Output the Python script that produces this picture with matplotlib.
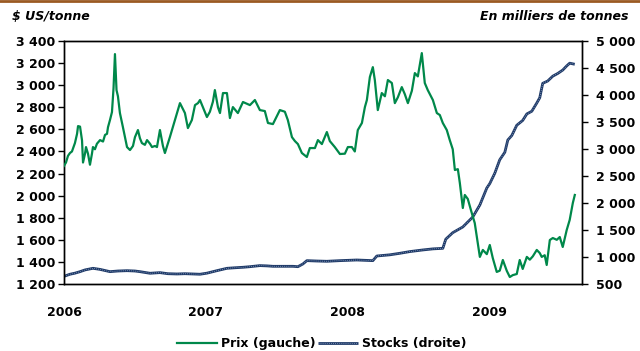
import matplotlib
matplotlib.use("Agg")
from matplotlib import pyplot as plt
from matplotlib.lines import Line2D
from matplotlib.ticker import FuncFormatter

# Aluminium price ($/t, left axis) and stocks (kt, right axis)
t0 = 2006
price_t = [0.000, 0.014, 0.028, 0.042, 0.056, 0.077, 0.092, 0.099, 0.113, 0.127,
           0.134, 0.148, 0.155, 0.169, 0.183, 0.197, 0.204, 0.218, 0.232, 0.254,
           0.275, 0.289, 0.303, 0.310, 0.324, 0.338, 0.349, 0.359, 0.370, 0.380,
           0.394, 0.415, 0.444, 0.465, 0.486, 0.500, 0.521, 0.535, 0.549, 0.570,
           0.585, 0.606, 0.620, 0.641, 0.655, 0.676, 0.697, 0.711, 0.746, 0.782,
           0.817, 0.852, 0.873, 0.901, 0.923, 0.944, 0.958, 0.979, 1.007, 1.028,
           1.049, 1.063, 1.085, 1.099, 1.120, 1.148, 1.169, 1.190, 1.225, 1.261,
           1.310, 1.345, 1.380, 1.415, 1.437, 1.472, 1.521, 1.556, 1.577, 1.606,
           1.627, 1.648, 1.676, 1.711, 1.732, 1.768, 1.789, 1.817, 1.852, 1.873,
           1.908, 1.944, 1.979, 2.000, 2.028, 2.049, 2.070, 2.099, 2.120, 2.134,
           2.155, 2.176, 2.190, 2.211, 2.239, 2.261, 2.282, 2.310, 2.331, 2.352,
           2.380, 2.401, 2.423, 2.451, 2.472, 2.493, 2.521, 2.542, 2.563, 2.599,
           2.627, 2.648, 2.669, 2.697, 2.718, 2.739, 2.754, 2.775, 2.789, 2.810,
           2.824, 2.845, 2.873, 2.894, 2.915, 2.930, 2.951, 2.979, 3.000, 3.021,
           3.049, 3.070, 3.092, 3.120, 3.141, 3.162, 3.190, 3.211, 3.232, 3.261,
           3.282, 3.303, 3.331, 3.352, 3.366, 3.387, 3.401, 3.423, 3.444, 3.472,
           3.493, 3.514, 3.542, 3.563, 3.585, 3.599]
price_v = [2270, 2300, 2360, 2386, 2400, 2476, 2560, 2630, 2625, 2500,
           2300, 2380, 2440, 2380, 2280, 2380, 2440, 2420, 2470, 2503,
           2490, 2550, 2560, 2620, 2685, 2757, 2974, 3282, 2956, 2900,
           2748, 2621, 2440, 2413, 2450, 2530, 2594, 2520, 2476, 2460,
           2503, 2470, 2440, 2450, 2440, 2594, 2450, 2386, 2530, 2685,
           2838, 2748, 2612, 2685, 2820, 2838, 2866, 2800, 2712, 2760,
           2850, 2956, 2800, 2748, 2929, 2929, 2703, 2802, 2748, 2848,
           2820, 2866, 2775, 2766, 2658, 2648, 2775, 2760, 2685, 2530,
           2494, 2467, 2386, 2350, 2431, 2431, 2503, 2467, 2576, 2494,
           2440, 2377, 2380, 2440, 2440, 2400, 2594, 2658, 2802, 2866,
           3074, 3164, 3047, 2775, 2929, 2900, 3047, 3020, 2838, 2890,
           2983, 2920, 2838, 2950, 3110, 3080, 3291, 3020, 2956, 2866,
           2748, 2730, 2658, 2594, 2503, 2420, 2232, 2240, 2114, 1888,
           2006, 1970, 1843, 1752, 1571, 1445, 1508, 1470, 1553, 1435,
           1309, 1320, 1417, 1318, 1263, 1280, 1290, 1417, 1336, 1445,
           1420, 1450, 1508, 1480, 1445, 1460, 1372, 1598, 1616, 1600,
           1625, 1535, 1689, 1780, 1933, 2006]

stock_t = [0.000, 0.007, 0.042, 0.077, 0.113, 0.148, 0.204, 0.254, 0.324, 0.380,
           0.444, 0.500, 0.535, 0.606, 0.676, 0.732, 0.796, 0.852, 0.908, 0.958,
           1.007, 1.077, 1.148, 1.204, 1.261, 1.310, 1.380, 1.430, 1.472, 1.556,
           1.613, 1.648, 1.683, 1.711, 1.782, 1.852, 1.944, 2.063, 2.176, 2.204,
           2.296, 2.366, 2.437, 2.528, 2.599, 2.669, 2.690, 2.739, 2.810, 2.880,
           2.930, 2.979, 3.000, 3.035, 3.070, 3.106, 3.127, 3.155, 3.190, 3.232,
           3.261, 3.296, 3.331, 3.352, 3.373, 3.408, 3.444, 3.479, 3.514, 3.542,
           3.563, 3.599]
stock_v = [640, 648, 680, 700, 728, 760, 790, 770, 728, 740,
           746, 740, 728, 698, 710, 690, 685, 690, 685, 680,
           700, 746, 790, 800, 809, 820, 840, 835, 827, 827,
           827, 820, 870, 932, 925, 920, 932, 944, 932, 1018,
           1040, 1068, 1100, 1130, 1150, 1160, 1330, 1450, 1556, 1740,
           1963, 2278, 2360, 2550, 2800, 2940, 3167, 3250, 3440, 3530,
           3650, 3700, 3852, 3950, 4217, 4260, 4350, 4400, 4463, 4540,
           4590, 4570]

years = [2006, 2007, 2008, 2009]
price_ticks = list(range(1200, 3401, 200))
stock_ticks = list(range(500, 5001, 500))

green = "#00884A"
navy = "#1F3A68"
plt.rcParams["font.family"] = "DejaVu Sans"


def spaced(v, pos):
  return "{:,}".format(int(v)).replace(",", " ")


fig = plt.figure(figsize=(6.4, 3.51), dpi=100)
ax = fig.add_axes([0.1, 0.191, 0.809, 0.692])
ax2 = ax.twinx()

px = [t0 + t for t in price_t]
sx = [t0 + t for t in stock_t]
pline, = ax.plot(px, price_v, color=green, lw=1.6, zorder=3)
sline, = ax2.plot(sx, stock_v, color=navy, lw=2.0, solid_capstyle="butt")
sdots, = ax2.plot(sx, stock_v, color="#8FA4C4", lw=0.6, ls=(0, (1, 1.5)))
ax.set_zorder(ax2.get_zorder() + 1)
ax.patch.set_visible(False)

ax.set_xlim(2006, 2009.648)
ax.set_ylim(1200, 3400)
ax2.set_ylim(500, 5000)
ax.set_xticks(years)
ax.set_xticklabels([str(y) for y in years])
ax.set_yticks(price_ticks)
ax2.set_yticks(stock_ticks)
ax.yaxis.set_major_formatter(FuncFormatter(spaced))
ax2.yaxis.set_major_formatter(FuncFormatter(spaced))

ax.tick_params(axis="x", length=0, pad=16, labelsize=9)
ax.tick_params(axis="y", length=4, width=1, pad=2, labelsize=9, direction="out")
ax2.tick_params(axis="y", length=4, width=1, pad=6, labelsize=9, direction="out")
for a in (ax, ax2):
  for lbl in a.get_xticklabels() + a.get_yticklabels():
    lbl.set_fontweight("bold")
  for sp in a.spines.values():
    sp.set_linewidth(1)
    sp.set_color("black")

fig.text(12 / 640, 0.952, "$ US/tonne", fontsize=9, fontweight="bold",
         fontstyle="italic", ha="left", va="center")
fig.text(628 / 640, 0.952, "En milliers de tonnes", fontsize=9, fontweight="bold",
         fontstyle="italic", ha="right", va="center")

# brown rule at the very top
fig.add_artist(Line2D([0, 1], [0.997, 0.997], color="#9A5A22", lw=2,
                      transform=fig.transFigure))

leg = fig.legend([pline, (sline, sdots)], ["Prix (gauche)", "Stocks (droite)"],
                 loc="center", bbox_to_anchor=(0.503, 0.02), ncol=2, frameon=False,
                 prop={"weight": "bold", "size": 9}, handlelength=3.2,
                 handletextpad=0.3, columnspacing=0.2)

fig.savefig("out.png", dpi=100)
